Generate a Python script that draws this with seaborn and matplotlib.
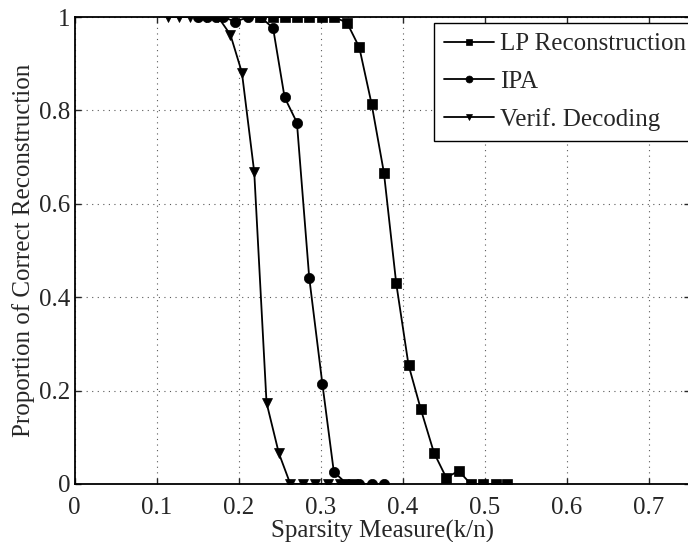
import numpy as np
import pandas as pd
import seaborn as sns
import matplotlib.pyplot as plt

# values
lp_x = [0.226, 0.242, 0.257, 0.271, 0.286, 0.302, 0.316, 0.332, 0.347, 0.362,
        0.377, 0.392, 0.407, 0.422, 0.438, 0.453, 0.468, 0.483, 0.498, 0.513, 0.527]
lp_y = [1, 1, 1, 1, 1, 1, 1, 0.988, 0.935, 0.814,
        0.667, 0.43, 0.255, 0.16, 0.067, 0.0135, 0.028, 0, 0, 0, 0]

ipa_x = [0.150, 0.162, 0.173, 0.181, 0.196, 0.212, 0.227, 0.242, 0.256,
         0.271, 0.286, 0.302, 0.316, 0.332, 0.347, 0.362, 0.377]
ipa_y = [1, 1, 1, 1, 0.99, 1, 1, 0.976, 0.828,
         0.774, 0.442, 0.215, 0.026, 0, 0, 0, 0]

verif_x = [0.114, 0.127, 0.141, 0.150, 0.160, 0.175, 0.190, 0.204, 0.219,
           0.234, 0.249, 0.263, 0.278, 0.293, 0.309, 0.324, 0.339]
verif_y = [1, 1, 1, 1, 1, 1, 0.962, 0.881, 0.668,
           0.174, 0.066, 0, 0, 0, 0, 0, 0]

series_names = ["LP Reconstruction", "IPA", "Verif. Decoding"]

x_ticks = [0, 0.1, 0.2, 0.3, 0.4, 0.5, 0.6, 0.7]
x_tick_labels = ["0", "0.1", "0.2", "0.3", "0.4", "0.5", "0.6", "0.7"]
y_ticks = [0, 0.2, 0.4, 0.6, 0.8, 1]
y_tick_labels = ["0", "0.2", "0.4", "0.6", "0.8", "1"]

sns.set_style("ticks")
plt.rcParams["font.family"] = ["Liberation Serif", "DejaVu Serif"]
plt.rcParams["font.size"] = 18

fig = plt.figure(figsize=(6.88, 5.42), dpi=100)
# axes runs a little past the right edge, like the cropped original
ax = fig.add_axes([74.5 / 688, 58 / 542, 615.5 / 688, 467 / 542])

common = dict(color="k", linewidth=1.3, markeredgecolor="k",
              markeredgewidth=0.5, ax=ax)
sns.lineplot(x=lp_x, y=lp_y, marker="s", markersize=7.2,
             label=series_names[0], **common)
sns.lineplot(x=ipa_x, y=ipa_y, marker="o", markersize=7.4,
             label=series_names[1], **common)
sns.lineplot(x=verif_x, y=verif_y, marker="v", markersize=7.6,
             label=series_names[2], **common)

ax.set_xlim(0, 0.75)
ax.set_ylim(0, 1)
ax.set_xticks(x_ticks)
ax.set_xticklabels(x_tick_labels)
ax.set_yticks(y_ticks)
ax.set_yticklabels(y_tick_labels)
ax.tick_params(direction="in", top=True, right=True, length=4, width=1,
               labelsize=18)
ax.tick_params(axis="x", pad=9)
ax.tick_params(axis="y", pad=3)

ax.grid(True, linestyle=(0, (1, 4)), color="0.35", linewidth=0.8)
ax.set_axisbelow(True)
for s in ax.spines.values():
    s.set_linewidth(1.3)
    s.set_color("k")

ax.set_xlabel("Sparsity Measure(k/n)", fontsize=18, labelpad=1)
ax.set_ylabel("Proportion of Correct Reconstruction", fontsize=18, labelpad=3)

leg = ax.legend(loc="upper left", bbox_to_anchor=(434 / 688, 1 - 23 / 542),
                bbox_transform=fig.transFigure, frameon=True, fancybox=False,
                edgecolor="k", framealpha=1, borderpad=0.4, handlelength=2.0,
                handletextpad=0.25, labelspacing=0.6, borderaxespad=0,
                fontsize=18)
leg.get_frame().set_linewidth(1.0)
for h in leg.legend_handles:
    h.set_markersize(5)

fig.savefig("out.png", dpi=100)
